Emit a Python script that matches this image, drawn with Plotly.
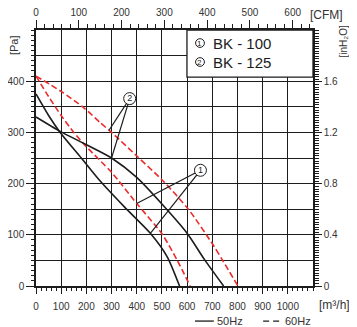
import numpy as np
import plotly.graph_objects as go

# ---- data ----
q_125_60 = [0, 100, 190, 255, 300, 400, 505, 605, 705, 740, 802]
p_125_60 = [410, 380, 348, 319, 300, 254, 205, 150, 79, 51, 0]

q_100_60 = [0, 50, 100, 150, 200, 300, 400, 500, 560, 612]
p_100_60 = [410, 370, 333, 300, 272, 222, 161, 102, 51, 0]

q_100_50 = [0, 50, 96, 180, 255, 350, 454, 520, 570]
p_100_50 = [375, 333, 300, 250, 205, 155, 103, 58, 0]

q_125_50 = [0, 96, 200, 300, 400, 500, 600, 670, 745]
p_125_50 = [330, 302, 276, 250, 212, 160, 103, 51, 0]

models = ["BK - 100", "BK - 125"]
marks = ["1", "2"]
freq_labels = ["50Hz", "60Hz"]

x_ticks = list(range(0, 1001, 100))
cfm_ticks = list(range(0, 601, 100))
pa_ticks = list(range(0, 401, 100))
inh2o_ticks = [0, 0.4, 0.8, 1.2, 1.6]
inh2o_labels = ["0", "0.4", "0.8", "1.2", "1.6"]

# pointer callouts: circle position and the Q at which each leader touches a curve
call1_pos = (653, 226)
call1_targets = [(q_100_60, p_100_60, 400), (q_100_50, p_100_50, 454)]
call2_pos = (372, 366)
call2_targets = [(q_125_60, p_125_60, 290), (q_125_50, p_125_50, 300)]

M3H_PER_CFM = 1.699
PA_PER_INH2O = 249.089
X_MAX, Y_MAX = 1100, 500

RED = "#ec2a2a"
BLK = "#1c1c1c"
FONT = "Liberation Sans, Arial, sans-serif"
GREY = "#333333"

fig = go.Figure()

def curve(q, p, color, dash):
    fig.add_trace(go.Scatter(x=q, y=p, mode="lines",
                             line=dict(color=color, width=1.6, dash=dash, shape="spline", smoothing=0.7),
                             hoverinfo="skip", showlegend=False))

curve(q_125_60, p_125_60, RED, "6px,3px")
curve(q_100_60, p_100_60, RED, "6px,3px")
curve(q_100_50, p_100_50, BLK, "solid")
curve(q_125_50, p_125_50, BLK, "solid")

# leader lines
for pos, targets in [(call1_pos, call1_targets), (call2_pos, call2_targets)]:
    for q, p, qt in targets:
        pt = float(np.interp(qt, q, p))
        fig.add_trace(go.Scatter(x=[pos[0], qt], y=[pos[1], pt], mode="lines",
                                 line=dict(color=BLK, width=1.2), hoverinfo="skip", showlegend=False))

# callout circles
for pos, m in [(call1_pos, marks[0]), (call2_pos, marks[1])]:
    fig.add_trace(go.Scatter(x=[pos[0]], y=[pos[1]], mode="markers+text", text=[m],
                             textposition="middle center", textfont=dict(size=9, color=BLK, family=FONT),
                             marker=dict(size=12, color="white", line=dict(color=BLK, width=1)),
                             hoverinfo="skip", showlegend=False))

# dummy traces for secondary axes
fig.add_trace(go.Scatter(x=[None], y=[None], xaxis="x2", yaxis="y2", showlegend=False, hoverinfo="skip"))
fig.add_trace(go.Scatter(x=[None], y=[None], xaxis="x", yaxis="y3", showlegend=False, hoverinfo="skip"))

tickfont = dict(size=10, color=GREY, family=FONT)

def ax(**kw):
    d = dict(showline=True, linecolor=BLK, linewidth=1.5, ticks="outside", tickcolor=BLK,
             tickwidth=1, ticklen=6, zeroline=False, tickfont=tickfont, automargin=False)
    d.update(kw)
    return d

# the page body adds an 8px offset, so the figure is sized to fit the 357x327 window
fig.update_layout(
    width=349, height=319,
    margin=dict(l=28, r=44, t=22, b=41),
    paper_bgcolor="white", plot_bgcolor="white",
    xaxis=ax(range=[0, X_MAX], tickvals=x_ticks, showgrid=True, gridcolor=BLK, gridwidth=1.3,
             ticklabelstandoff=4,
             minor=dict(dtick=20, tick0=0, ticks="outside", ticklen=3, tickcolor=BLK, showgrid=False)),
    xaxis2=ax(range=[0, X_MAX / M3H_PER_CFM], overlaying="x", side="top", tickvals=cfm_ticks,
              showgrid=False, ticklen=8, ticklabelstandoff=0,
              minor=dict(dtick=20, tick0=0, ticks="outside", ticklen=4, tickcolor=BLK, showgrid=False)),
    yaxis=ax(range=[0, Y_MAX], tickvals=pa_ticks, showgrid=True, gridcolor=BLK,
             gridwidth=1.3, ticklen=8, ticklabelstandoff=0,
             minor=dict(dtick=50, tick0=0, ticks="", showgrid=True, gridcolor=BLK, gridwidth=1.3)),
    yaxis3=dict(range=[0, Y_MAX], overlaying="y", side="left", dtick=10, tick0=0, ticks="outside",
                ticklen=4, tickcolor=BLK, tickwidth=1, showticklabels=False, showgrid=False,
                showline=False, zeroline=False, automargin=False),
    yaxis2=ax(range=[0, Y_MAX / PA_PER_INH2O], overlaying="y", side="right", tickvals=inh2o_ticks,
              ticktext=inh2o_labels, showgrid=False, ticklen=7,
              minor=dict(dtick=0.02, tick0=0, ticks="outside", ticklen=4, tickcolor=BLK, showgrid=False)),
)

# legend box (white, covers grid)
fig.add_shape(type="rect", xref="paper", yref="paper", x0=0.545, x1=1.0, y0=0.816, y1=1.0,
              fillcolor="white", line=dict(color=BLK, width=1.3), layer="above")

for i, (m, name) in enumerate(zip(marks, models)):
    yp = 0.949 - i * 0.074
    fig.add_annotation(xref="paper", yref="paper", x=0.592, y=yp, text=m, showarrow=False,
                       font=dict(size=8, color=BLK, family=FONT), xanchor="center", yanchor="middle")
    fig.add_shape(type="circle", xref="paper", yref="paper", x0=0.592 - 0.016, x1=0.592 + 0.016,
                  y0=yp - 0.017, y1=yp + 0.017, line=dict(color=BLK, width=1), layer="above")
    fig.add_annotation(xref="paper", yref="paper", x=0.63, y=yp, text=name, showarrow=False,
                       font=dict(size=15, color=BLK, family=FONT), xanchor="left", yanchor="middle")

# unit labels
fig.add_annotation(xref="paper", yref="paper", x=1.047, y=1.0, yshift=15, text="[CFM]", showarrow=False,
                   font=dict(size=12, color=GREY, family=FONT), xanchor="center", yanchor="middle")
fig.add_annotation(xref="paper", yref="paper", x=1.078, y=0, yshift=-19, text="[m³/h]", showarrow=False,
                   font=dict(size=12, color=GREY, family=FONT), xanchor="center", yanchor="middle")
fig.add_annotation(xref="paper", yref="paper", x=0, xshift=-22, y=0.941, text="[Pa]", showarrow=False,
                   textangle=-90, font=dict(size=11, color=GREY, family=FONT), xanchor="center", yanchor="middle")
fig.add_annotation(xref="paper", yref="paper", x=1, xshift=31, y=0.955, text="[inH₂O]", showarrow=False,
                   textangle=-90, font=dict(size=10, color=GREY, family=FONT), xanchor="center", yanchor="middle")

# line-style key at bottom
KEY_Y = -0.137
fig.add_shape(type="line", xref="paper", yref="paper", x0=0.574, x1=0.642, y0=KEY_Y, y1=KEY_Y,
              line=dict(color=BLK, width=1.3))
fig.add_annotation(xref="paper", yref="paper", x=0.645, y=KEY_Y, text=freq_labels[0], showarrow=False,
                   font=dict(size=11, color=GREY, family=FONT), xanchor="left", yanchor="middle")
fig.add_shape(type="line", xref="paper", yref="paper", x0=0.82, x1=0.886, y0=KEY_Y, y1=KEY_Y,
              line=dict(color=BLK, width=1.3, dash="6px,4px"))
fig.add_annotation(xref="paper", yref="paper", x=0.89, y=KEY_Y, text=freq_labels[1], showarrow=False,
                   font=dict(size=11, color=GREY, family=FONT), xanchor="left", yanchor="middle")

fig.write_html("out.html")
